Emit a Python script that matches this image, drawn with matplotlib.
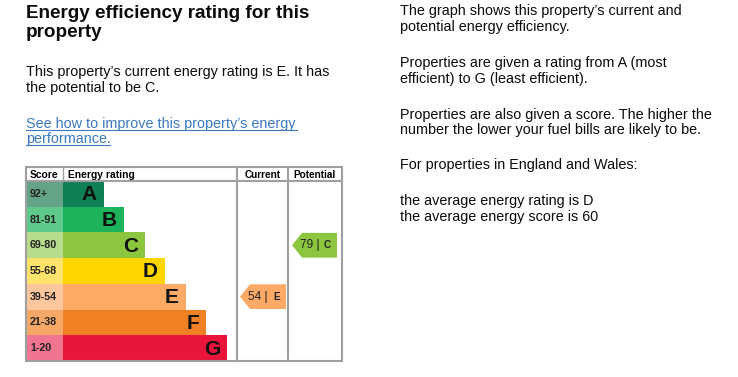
import matplotlib
matplotlib.use("Agg")
import matplotlib.pyplot as plt
from matplotlib.patches import Rectangle, Polygon

plt.rcParams['font.family'] = ['Liberation Sans', 'DejaVu Sans']

# EPC bands
bands = ["A", "B", "C", "D", "E", "F", "G"]
ranges = ["92+", "81-91", "69-80", "55-68", "39-54", "21-38", "1-20"]
bar_colors = ["#0f7f54", "#1db35a", "#8cc63f", "#ffd500", "#fcaa65", "#ef8023", "#e9153b"]
score_colors = ["#64a386", "#5ec98b", "#b7dc8c", "#ffe36b", "#fdc69c", "#f5a866", "#f07590"]
current_score, current_band = 54, "E"
potential_score, potential_band = 79, "C"

W, H = 738, 377
fig = plt.figure(figsize=(W / 100, H / 100), dpi=100)
ax = fig.add_axes([0, 0, 1, 1])
ax.set_xlim(0, W); ax.set_ylim(H, 0); ax.axis("off")

ink = "#0b0c0c"
link = "#3c78c0"
body = 10.4

# left text, line by line (baselines in pixels)
ax.text(26, 18, "Energy efficiency rating for this", fontsize=13.6, fontweight="bold", va="baseline", color=ink)
ax.text(26, 37, "property", fontsize=13.6, fontweight="bold", va="baseline", color=ink)
ax.text(26, 76, "This property\u2019s current energy rating is E. It has", fontsize=body, va="baseline", color=ink)
ax.text(26, 92, "the potential to be C.", fontsize=body, va="baseline", color=ink)
ax.text(26, 128, "See how to improve this property\u2019s energy", fontsize=body, va="baseline", color=link)
ax.text(26, 143, "performance.", fontsize=body, va="baseline", color=link)
ax.plot([26, 297], [130, 130], color=link, lw=0.8)
ax.plot([26, 110], [145, 145], color=link, lw=0.8)

# right text
right = [(15, "The graph shows this property\u2019s current and"),
         (31, "potential energy efficiency."),
         (67, "Properties are given a rating from A (most"),
         (83, "efficient) to G (least efficient)."),
         (119, "Properties are also given a score. The higher the"),
         (134, "number the lower your fuel bills are likely to be."),
         (169, "For properties in England and Wales:"),
         (205, "the average energy rating is D"),
         (221, "the average energy score is 60")]
for y, s in right:
    ax.text(400, y, s, fontsize=body, va="baseline", color=ink)

# table geometry
x0, x1 = 26, 342
xs, xb, xc, xp = 63, 63, 237, 288
ytop, yhead = 167, 181
row_h = 25.7
bar_ends = [104, 124, 145, 165, 186, 206, 227]
border = "#a0a0a0"

for i, (b, r) in enumerate(zip(bands, ranges)):
    y = yhead + i * row_h
    ax.add_patch(Rectangle((x0, y), xs - x0, row_h, color=score_colors[i], lw=0))
    ax.add_patch(Rectangle((xb, y), bar_ends[i] - xb, row_h, color=bar_colors[i], lw=0))
    ax.text(30, y + row_h / 2, r, fontsize=7.7, fontweight="bold", va="center", color="#222")
    ax.text(bar_ends[i] - 7, y + row_h / 2 + 1, b, fontsize=15, fontweight="bold",
            va="center", ha="right", color="#111")

ybot = yhead + 7 * row_h
# borders
ax.add_patch(Rectangle((x0, ytop), x1 - x0, ybot - ytop, fill=False, ec=border, lw=1.5))
ax.plot([x0, x1], [yhead, yhead], color=border, lw=1.5)
ax.plot([xc, xc], [ytop, ybot], color=border, lw=1.5)
ax.plot([xp, xp], [ytop, ybot], color=border, lw=1.5)
ax.plot([xs, xs], [ytop, yhead], color=border, lw=1.0)

hy = 174.5
ax.text(29.5, hy, "Score", fontsize=7.4, fontweight="bold", va="center")
ax.text(68, hy, "Energy rating", fontsize=7.4, fontweight="bold", va="center")
ax.text((xc + xp) / 2, hy, "Current", fontsize=7.2, fontweight="bold", va="center", ha="center")
ax.text((xp + x1) / 2, hy, "Potential", fontsize=7.2, fontweight="bold", va="center", ha="center")


def arrow(score, band, left, right_x):
    i = bands.index(band)
    y = yhead + i * row_h + 0.5
    h = row_h - 1
    pts = [(left, y + h / 2), (left + 10, y), (right_x, y), (right_x, y + h), (left + 10, y + h)]
    ax.add_patch(Polygon(pts, closed=True, color=bar_colors[i], lw=0))
    ax.text(left + 8, y + h / 2, f"{score} |", fontsize=8.6, va="center", color="#222")
    ax.text(right_x - 6, y + h / 2, band, fontsize=7.2, fontweight="bold", va="center",
            ha="right", color="#222")


arrow(current_score, current_band, 240, 286)
arrow(potential_score, potential_band, 292, 337)

fig.savefig("out.png", dpi=100)
